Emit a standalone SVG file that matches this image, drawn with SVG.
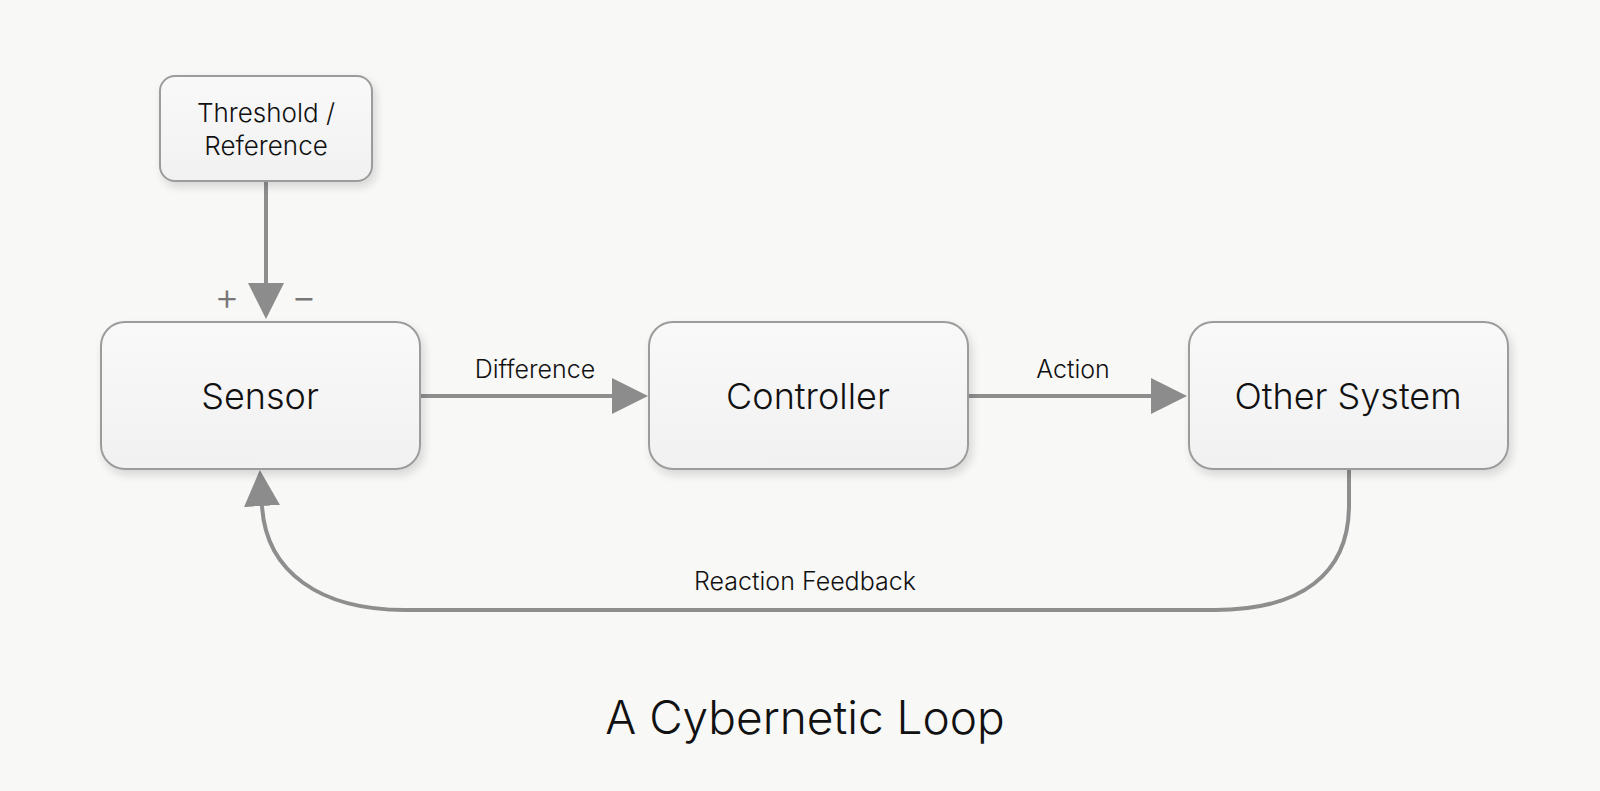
<svg xmlns="http://www.w3.org/2000/svg" width="1600" height="791" viewBox="0 0 1600 791">
  <defs>
    <linearGradient id="boxFill" x1="0" y1="0" x2="0" y2="1">
      <stop offset="0" stop-color="#f9f9f9"/>
      <stop offset="1" stop-color="#f1f1f1"/>
    </linearGradient>
    <filter id="shadow" x="-10%" y="-10%" width="125%" height="135%">
      <feGaussianBlur in="SourceAlpha" stdDeviation="5"/>
      <feOffset dx="3" dy="5" result="b"/>
      <feComponentTransfer><feFuncA type="linear" slope="0.14"/></feComponentTransfer>
      <feMerge><feMergeNode/><feMergeNode in="SourceGraphic"/></feMerge>
    </filter>
    <marker id="arrow" viewBox="0 -18 36 36" markerWidth="36" markerHeight="36" refX="0" refY="0" markerUnits="userSpaceOnUse" orient="auto">
      <path d="M0,-18 L36,0 L0,18 z" fill="#8c8c8c"/>
    </marker>
    <style>
      .box { fill: url(#boxFill); stroke: #9c9c9c; stroke-width: 2; filter: url(#shadow); }
      .lbl { font-family: Inter, "Liberation Sans", sans-serif; font-weight: 300; fill: #111111; text-anchor: middle; }
      .node { font-size: 36px; }
      .small { font-size: 26px; }
      .edge { font-size: 25px; }
      .conn { fill: none; stroke: #8e8e8e; stroke-width: 4; marker-end: url(#arrow); }
      .sign { font-family: Inter, "Liberation Sans", sans-serif; font-weight: 300; fill: #777777; font-size: 38px; text-anchor: middle; }
    </style>
  </defs>
  <rect width="1600" height="791" fill="#f8f8f7"/>

  <g id="connectors">
    <path class="conn" d="M266 181 L266 283"/>
    <path class="conn" d="M420 396 L612 396"/>
    <path class="conn" d="M968 396 L1151 396"/>
    <path class="conn" d="M1349 469 L1349 505 C1349 575 1300 610 1215 610 L405 610 C320 610 266 572 262 506"/>
    <text class="sign" x="227" y="310">+</text>
    <text class="sign" x="304" y="310">−</text>
    <text class="lbl edge" x="535" y="378">Difference</text>
    <text class="lbl edge" x="1073" y="378">Action</text>
    <text class="lbl edge" x="805" y="590">Reaction Feedback</text>
  </g>

  <g id="threshold">
    <rect class="box" x="160" y="76" width="212" height="105" rx="15"/>
    <text class="lbl small" x="266" y="122">Threshold /</text>
    <text class="lbl small" x="266" y="155">Reference</text>
  </g>

  <g id="sensor">
    <rect class="box" x="101" y="322" width="319" height="147" rx="24"/>
    <text class="lbl node" x="260" y="409">Sensor</text>
  </g>

  <g id="controller">
    <rect class="box" x="649" y="322" width="319" height="147" rx="24"/>
    <text class="lbl node" x="808" y="409">Controller</text>
  </g>

  <g id="other-system">
    <rect class="box" x="1189" y="322" width="319" height="147" rx="24"/>
    <text class="lbl node" x="1348" y="409">Other System</text>
  </g>

  <g id="title">
    <text class="lbl" x="805" y="734" font-size="46">A Cybernetic Loop</text>
  </g>
</svg>
